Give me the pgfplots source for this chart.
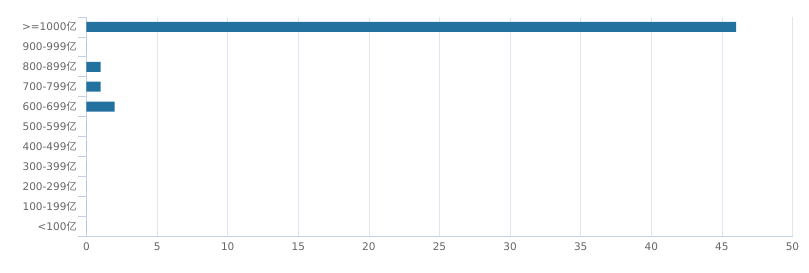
\documentclass[border=0pt]{standalone}
\usepackage{fontspec}
\setmainfont{DejaVu Sans}
\newfontfamily\cjk{Noto Sans CJK SC}
\newcommand{\yi}{{\cjk 亿}}
\usepackage{pgfplots}
\pgfplotsset{compat=1.18}
\definecolor{barc}{HTML}{23719F}
\definecolor{gridc}{HTML}{E0E6F1}
\definecolor{axc}{HTML}{C4D0E6}
\definecolor{labc}{HTML}{666666}
\begin{document}
\begin{tikzpicture}
\path[use as bounding box] (0,0) rectangle (809pt,273pt);
\begin{axis}[
  at={(86.5pt,37pt)}, anchor=south west,
  scale only axis, width=706pt, height=219pt,
  xbar, bar width=10pt,
  xmin=0, xmax=50, xtick={0,5,...,50},
  ymin=-0.5, ymax=10.5,
  ytick={0,...,10},
  yticklabels={<100\yi,100-199\yi,200-299\yi,300-399\yi,400-499\yi,500-599\yi,600-699\yi,700-799\yi,800-899\yi,900-999\yi,>=1000\yi},
  extra y ticks={-0.5,0.5,...,10.5},
  extra y tick labels={},
  extra y tick style={major tick length=8pt, tick align=outside, tick style={axc, line width=0.8pt}, grid=none},
  axis lines=left,
  axis line style={axc, line width=0.8pt, -},
  xmajorgrids, grid style={gridc, line width=0.8pt},
  ymajorgrids=false,
  major tick length=0pt,
  tick label style={labc, font=\fontsize{10.5}{12}\selectfont},
  yticklabel style={xshift=-6pt},
  xticklabel style={yshift=-3pt},
  /pgf/number format/assume math mode=true,
]
\addplot[fill=barc, draw=none] coordinates {(0,0) (0,1) (0,2) (0,3) (0,4) (0,5) (2,6) (1,7) (1,8) (0,9) (46,10)};
\end{axis}
\end{tikzpicture}
\end{document}
